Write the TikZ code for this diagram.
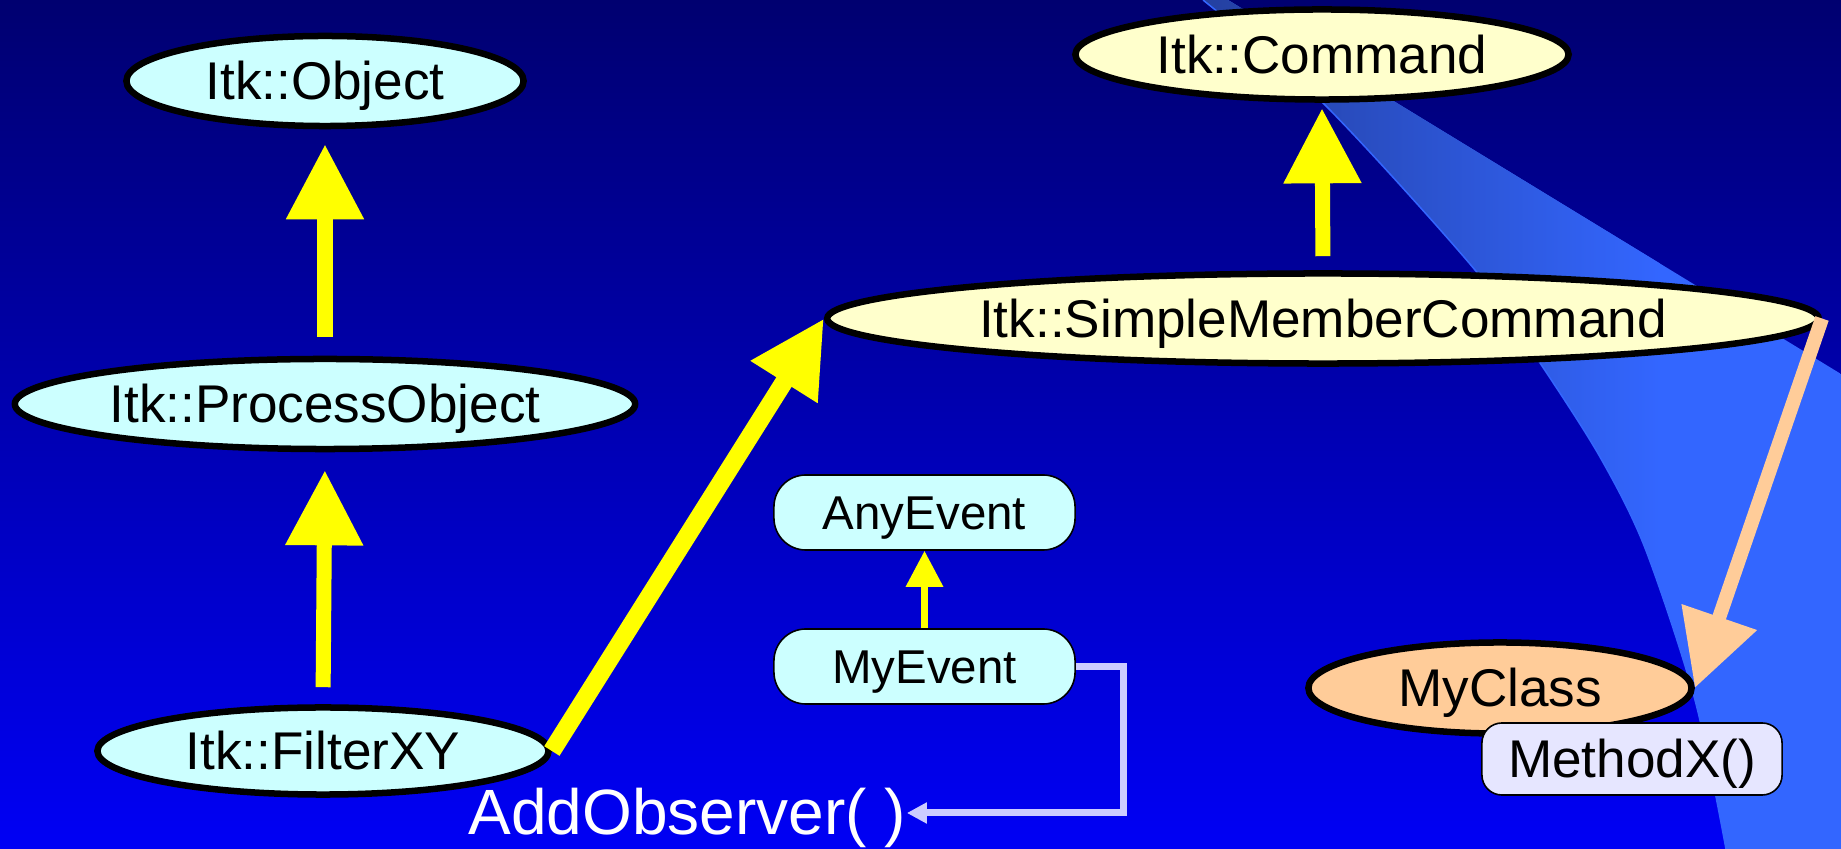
\documentclass[tikz,border=0pt]{standalone}
\usepackage{fontspec}
\setmainfont{Liberation Sans}
\usetikzlibrary{arrows.meta,shapes.geometric,calc}

% palette
\definecolor{bgtop}{RGB}{0,0,112}
\definecolor{bgbottom}{RGB}{0,0,245}
\definecolor{bandA}{RGB}{36,64,160}
\definecolor{bandB}{RGB}{51,102,255}
\definecolor{cyanfill}{RGB}{204,255,255}
\definecolor{creamfill}{RGB}{255,255,204}
\definecolor{peachfill}{RGB}{255,204,153}
\definecolor{lavfill}{RGB}{230,230,255}
\definecolor{lavline}{RGB}{204,204,255}
\definecolor{arrowyellow}{RGB}{255,255,0}

% type sizes
\newcommand\fsClass{\fontsize{15.1pt}{18pt}\selectfont}
\newcommand\fsEvent{\fontsize{13.5pt}{16pt}\selectfont}
\newcommand\fsCall{\fontsize{18.2pt}{22pt}\selectfont}

\begin{document}
\begin{tikzpicture}[x=0.01cm,y=-0.01cm,
  classnode/.style={ellipse, draw=black, line width=0.065cm, inner sep=0pt,
    font=\fsClass, text height=0.37cm, text depth=0pt},
  eventnode/.style={rectangle, rounded corners=0.32cm, draw=black, line width=0.016cm,
    fill=cyanfill, inner sep=0pt, minimum width=3.01cm, minimum height=0.75cm,
    font=\fsEvent, text height=0.335cm, text depth=0pt},
  methodnode/.style={rectangle, rounded corners=0.2cm, draw=black, line width=0.016cm,
    fill=lavfill, inner sep=0pt, minimum width=3.0cm, minimum height=0.72cm,
    font=\fsClass, text height=0.37cm, text depth=0pt},
  inheritarrow/.style={draw=arrowyellow, line width=0.15cm,
    -{Triangle[length=0.75cm,width=0.74cm]}},
  smallinherit/.style={draw=arrowyellow, line width=0.065cm,
    -{Triangle[length=0.36cm,width=0.36cm]}},
  peacharrow/.style={draw=peachfill, line width=0.14cm,
    -{Triangle[length=0.75cm,width=0.76cm]}},
  observerlink/.style={draw=lavline, line width=0.07cm, line join=miter,
    -{Triangle[length=0.2cm,width=0.2cm]}},
]

% background
\useasboundingbox (0,0) rectangle (1841,849);
\shade[top color=bgtop, bottom color=bgbottom] (0,0) rectangle (1841,849);

% light sweep on the right
\begin{scope}
  \clip (0,0) rectangle (1841,849);
  \begin{scope}
    \clip (1841,849) -- (1841,374) -- (1228,0)
      -- plot[smooth] coordinates {(1203,0) (1323,103) (1475,270) (1540,363)
         (1600,457) (1645,548) (1695,700) (1726,849)} -- cycle;
    \fill[bandB] (1150,0) rectangle (1841,849);
    \shade[left color=bandA, right color=bandB] (1203,0) rectangle (1660,849);
  \end{scope}
  \draw[bandB, line width=0.015cm] plot[smooth] coordinates {(1203,0) (1323,103)
    (1475,270) (1540,363) (1600,457) (1645,548) (1695,700) (1726,849)};
\end{scope}

% classes
\node[classnode, fill=cyanfill, minimum width=3.97cm, minimum height=0.90cm]
  (Object) at (325,81) {Itk::Object};
\node[classnode, fill=cyanfill, minimum width=6.20cm, minimum height=0.90cm]
  (ProcessObject) at (325,404) {Itk::ProcessObject};
\node[classnode, fill=cyanfill, minimum width=4.51cm, minimum height=0.87cm]
  (FilterXY) at (323,751) {Itk::FilterXY};
\node[classnode, fill=creamfill, minimum width=4.93cm, minimum height=0.90cm]
  (Command) at (1322,54.5) {Itk::Command};
\node[classnode, fill=creamfill, minimum width=9.91cm, minimum height=0.90cm]
  (SMCommand) at (1323,318.5) {Itk::SimpleMemberCommand};
\node[classnode, fill=peachfill, minimum width=3.83cm, minimum height=0.91cm]
  (MyClass) at (1500,688) {MyClass};
\node[methodnode] (MethodX) at (1632,759) {MethodX()};

% events
\node[eventnode] (AnyEvent) at (924.5,512.5) {AnyEvent};
\node[eventnode] (MyEvent) at (924.5,666.5) {MyEvent};

% call label
\node[anchor=base west, text=white, font=\fsCall, inner sep=0pt]
  (AddObserver) at (468,835) {AddObserver( )};
\coordinate (bend) at (1123,813);

% connectors
\draw[inheritarrow, shorten <=0.19cm, shorten >=0.15cm]
  (ProcessObject.north) -- (Object.south);
\draw[inheritarrow, shorten <=0.17cm, shorten >=0.18cm]
  (FilterXY.north) -- (ProcessObject.south);
\draw[inheritarrow, shorten <=0.14cm, shorten >=0.055cm]
  (SMCommand.north) -- (Command.south);
\draw[inheritarrow, line width=0.18cm] (FilterXY.east) -- (SMCommand.west);
\draw[smallinherit] (MyEvent.north) -- (AnyEvent.south);
\draw[peacharrow] (SMCommand.east) -- (MyClass.east);
\draw[observerlink] (MyEvent.east) -| (bend) -- (AddObserver.east |- bend);

\end{tikzpicture}
\end{document}
